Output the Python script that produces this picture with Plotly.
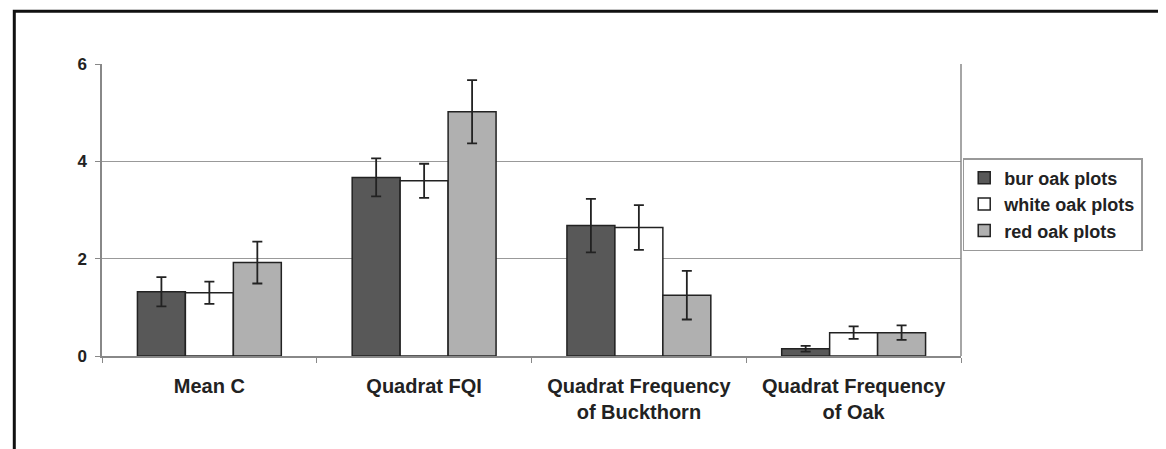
import plotly.graph_objects as go

categories = ["Mean C", "Quadrat FQI", "Quadrat Frequency<br>of Buckthorn", "Quadrat Frequency<br>of Oak"]
series_names = ["bur oak plots", "white oak plots", "red oak plots"]
bur_vals = [1.32, 3.67, 2.68, 0.15]
bur_err = [0.30, 0.39, 0.55, 0.06]
white_vals = [1.30, 3.60, 2.64, 0.48]
white_err = [0.23, 0.35, 0.46, 0.13]
red_vals = [1.92, 5.02, 1.25, 0.48]
red_err = [0.43, 0.65, 0.50, 0.15]
y_ticks = [0, 2, 4, 6]

colors = ["#585858", "#ffffff", "#b0b0b0"]
vals = [bur_vals, white_vals, red_vals]
errs = [bur_err, white_err, red_err]

fig = go.Figure()
for name, v, e, c in zip(series_names, vals, errs, colors):
    fig.add_trace(go.Bar(
        x=categories, y=v, name=name,
        marker=dict(color=c, line=dict(color="#222222", width=1.5)),
        error_y=dict(type="data", array=e, visible=True, color="#222222", thickness=1.8, width=5),
    ))

FONT = "Liberation Sans, Arial, sans-serif"
font_x = dict(family=FONT, size=20, color="#222222", weight="bold")
font_y = dict(family=FONT, size=17, color="#222222", weight="bold")
font_leg = dict(family=FONT, size=18, color="#222222", weight="bold")

fig.update_layout(
    width=1166, height=449,
    margin=dict(l=94, r=213, t=56, b=101),
    paper_bgcolor="white", plot_bgcolor="white",
    barmode="group", bargap=0.33, bargroupgap=0,
    showlegend=True,
    legend=dict(x=1.002, y=0.678, xanchor="left", yanchor="top",
                bordercolor="#999999", borderwidth=1.5, font=font_leg,
                tracegroupgap=0, itemwidth=30),
    xaxis=dict(showline=True, linecolor="#888888", linewidth=1.5,
               tickson="boundaries", ticks="outside", ticklen=5, tickcolor="#888888",
               tickfont=font_x, showgrid=False, ticklabelstandoff=11),
    yaxis=dict(range=[0, 6], tickvals=y_ticks, showline=True, linecolor="#888888", linewidth=1.5,
               ticks="outside", ticklen=5, tickcolor="#888888",
               showgrid=True, gridcolor="#999999", gridwidth=1.2, zeroline=False,
               tickfont=font_y, ticklabelstandoff=5),
    shapes=[
        dict(type="line", xref="paper", yref="paper", x0=1, x1=1, y0=0, y1=1,
             line=dict(color="#888888", width=1.5)),
        dict(type="path", xref="paper", yref="paper",
             path="M -0.1021 -0.4 L -0.1021 1.1805 L 1.3 1.1805",
             line=dict(color="#111111", width=3)),
    ],
)

fig.write_html("out.html")
